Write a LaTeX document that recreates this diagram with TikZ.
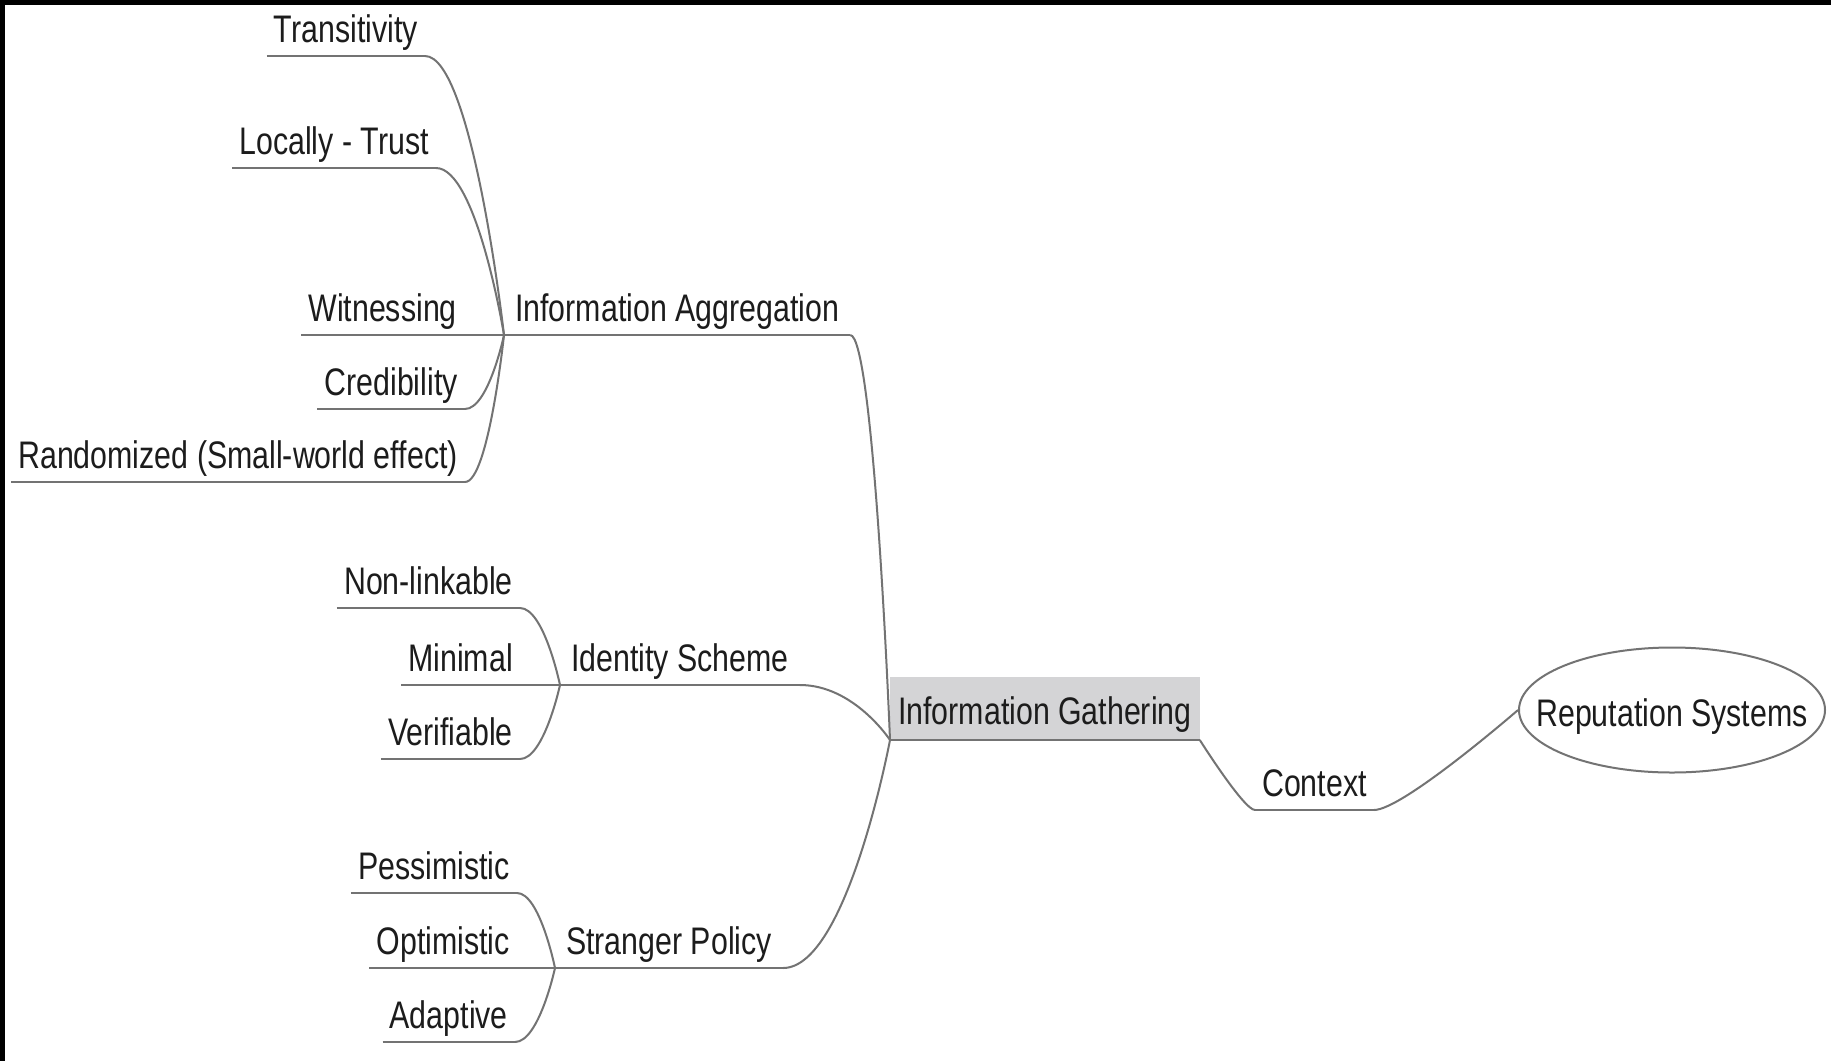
\documentclass[tikz,border=0pt]{standalone}
\usepackage{fontspec}
\setmainfont{Liberation Sans}[FakeStretch=0.79]
\usetikzlibrary{calc,shapes.geometric}
\definecolor{ink}{RGB}{28,28,28}
\definecolor{edge}{RGB}{115,115,115}
\definecolor{hilite}{RGB}{212,212,214}
% branch from a child's end (leaving horizontally) straight into its parent's joint;
% the optional argument sets how far the horizontal lead reaches
\newcommand\branch[3][0.6]{%
  \draw[conn] let \p1=(#2), \p2=(#3) in
    (\p1) .. controls ({\x1+#1*(\x2-\x1)},\y1) and (\p2) .. (\p2);}
% underline below a topic
\newcommand\uline[1]{\draw[conn] (#1.south west) -- (#1.south east);}
\begin{document}
\begin{tikzpicture}[x=1pt,y=-1pt,
  every node/.style={font=\fontsize{38.4pt}{46pt}\selectfont, text=ink},
  leaf/.style={anchor=south east, inner xsep=7pt, inner ysep=13pt, text depth=0pt},
  topic/.style={anchor=south west, inner xsep=11pt, inner ysep=13pt, text depth=0pt},
  conn/.style={draw=edge, line width=2pt},
  centre/.style={anchor=south west, fill=hilite, inner xsep=8pt, inner ysep=15pt,
                 text height=33pt, text depth=0pt},
  rootnode/.style={draw=edge, line width=2pt, ellipse, minimum width=306pt,
                   minimum height=125pt, inner sep=0pt, text height=32pt, text depth=0pt}]
\useasboundingbox (0,0) rectangle (1831,1061);
\fill[white] (0,0) rectangle (1831,1061);
\fill[black] (0,0) rectangle (1831,5);
\fill[black] (0,0) rectangle (5,1061);

% central topic and root
\node[centre] (ig) at (890,740) {Information Gathering};
\draw[conn] (ig.south west) -- (ig.south east);
\node[topic, inner xsep=7pt] (ctx) at (1255,810) {Context};
\node[rootnode] (rs) at (1672,710) {\makebox[0pt]{Reputation Systems}};

% main branches
\node[topic] (ia) at (504,335) {Information Aggregation};
\node[topic] (is) at (560,685) {Identity Scheme};
\node[topic] (sp) at (555,968) {Stranger Policy};

% leaves
\node[leaf] (tr) at (425,56) {Transitivity};
\node[leaf] (lt) at (436,168) {Locally - Trust};
\node[leaf] (wi) at (464,335) {Witnessing};
\node[leaf] (cr) at (465,409) {Credibility};
\node[leaf] (ra) at (465,482) {Randomized (Small-world effect)};
\node[leaf] (nl) at (520,608) {Non-linkable};
\node[leaf] (mi) at (520,685) {Minimal};
\node[leaf] (ve) at (520,759) {Verifiable};
\node[leaf] (pe) at (517,893) {Pessimistic};
\node[leaf] (op) at (517,968) {Optimistic};
\node[leaf] (ad) at (515,1042) {Adaptive};

% underlines
\foreach \k in {ctx,ia,is,sp,tr,lt,wi,cr,ra,nl,mi,ve,pe,op,ad} {\uline{\k}}

% connectors
\branch[0.2]{ctx.south west}{ig.south east}
\branch[0.2]{ctx.south east}{rs.west}
\foreach \k in {ia,is,sp} {\branch{\k.south east}{ig.south west}}
\foreach \k in {tr,lt,wi,cr,ra} {\branch{\k.south east}{ia.south west}}
\foreach \k in {nl,mi,ve} {\branch{\k.south east}{is.south west}}
\foreach \k in {pe,op,ad} {\branch{\k.south east}{sp.south west}}
\end{tikzpicture}
\end{document}
